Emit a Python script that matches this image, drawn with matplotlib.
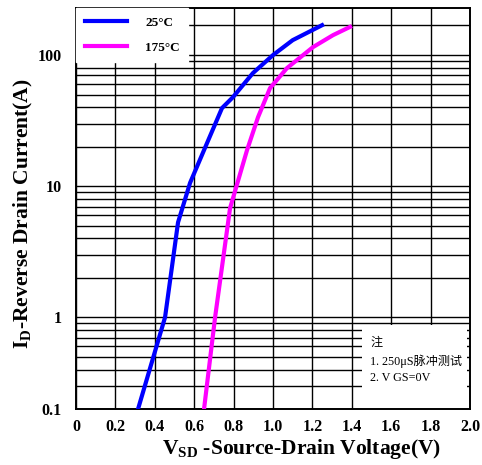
import matplotlib
matplotlib.use("Agg")
import matplotlib.pyplot as plt
from matplotlib.patches import Rectangle

# ---- data ----
v_25 = [0.315, 0.452, 0.518, 0.579, 0.665, 0.741, 0.797, 0.898, 1.00, 1.10, 1.249]
i_25 = [0.2, 1.0, 5.3, 10.6, 21.3, 39.4, 47.8, 72.9, 100, 130, 169]
v_175 = [0.650, 0.706, 0.782, 0.868, 0.924, 0.985, 1.071, 1.203, 1.305, 1.391]
i_175 = [0.2, 1.0, 6.8, 18.8, 33.6, 56, 79.6, 115, 142, 164]
series_labels = ["25°C", "175°C"]
series_colors = ["#0000ff", "#ff00ff"]

x_ticks = [0, 0.2, 0.4, 0.6, 0.8, 1.0, 1.2, 1.4, 1.6, 1.8, 2.0]
x_tick_labels = ["0", "0.2", "0.4", "0.6", "0.8", "1.0", "1.2", "1.4", "1.6", "1.8", "2.0"]
y_ticks = [0.2, 1, 10, 100]
y_tick_labels = ["0.1", "1", "10", "100"]
y_minor = [0.3, 0.4, 0.5, 0.6, 0.7, 0.8, 0.9,
           2, 3, 4, 5, 6, 7, 8, 9,
           20, 30, 40, 50, 60, 70, 80, 90, 170]
note_lines = ["注", "1. 250μS脉冲测试", "2. V GS=0V"]

plt.rcParams['mathtext.fontset'] = 'custom'
plt.rcParams['mathtext.rm'] = 'Liberation Serif'
plt.rcParams['mathtext.bf'] = 'Liberation Serif:bold'

W, H = 482, 465
fig = plt.figure(figsize=(W / 100, H / 100), dpi=100)
ax = fig.add_axes([76 / W, 1 - 409 / H, (470 - 76) / W, (409 - 8) / H])

ax.set_yscale('log')
ax.set_xlim(0, 2.0)
ax.set_ylim(0.2, 228.6)

ax.plot(v_25, i_25, color=series_colors[0], lw=3.0, label=series_labels[0], zorder=3)
ax.plot(v_175, i_175, color=series_colors[1], lw=3.0, label=series_labels[1], zorder=3)

ax.set_xticks(x_ticks)
ax.set_xticklabels(x_tick_labels)
ax.set_yticks(y_ticks)
ax.set_yticklabels(y_tick_labels)
ax.set_yticks(y_minor, minor=True)
ax.yaxis.set_minor_formatter(plt.NullFormatter())
ax.tick_params(axis='both', which='both', length=0)
ax.tick_params(axis='x', pad=7)
ax.tick_params(axis='y', pad=10)
for lab in ax.get_xticklabels() + ax.get_yticklabels():
    lab.set_fontfamily('Liberation Serif')
    lab.set_fontweight('bold')
    lab.set_fontsize(11.5)

ax.grid(True, which='both', color='black', lw=1.0)
ax.set_axisbelow(True)
for s in ax.spines.values():
    s.set_linewidth(1.4)
    s.set_color('black')

# note box (white area at lower right)
ax.add_patch(Rectangle((0.726, 0.0), 0.266, 0.21, transform=ax.transAxes,
                       facecolor='white', edgecolor='none', zorder=2))
note_y = [343, 361, 378]
for txt, yp in zip(note_lines, note_y):
    fig.text(370 / W, 1 - yp / H, txt, ha='left', va='center', fontsize=8.7,
             family=['Liberation Serif', 'Noto Sans CJK SC'])

leg = ax.legend(loc='upper left', bbox_to_anchor=(0, 1), borderaxespad=0,
                frameon=True, fancybox=False, framealpha=1, edgecolor='white',
                handlelength=3.2, handletextpad=1.4, labelspacing=0.95,
                borderpad=0.65, prop={'family': 'Liberation Serif', 'weight': 'bold', 'size': 9.5})
leg.set_zorder(5)

fig.text(302 / W, 1 - 449 / H, r"$\mathbf{V}_{\mathbf{SD}}$ -Source-Drain Voltage(V)",
         ha='center', va='center', fontsize=15.5, family='Liberation Serif', fontweight='bold')
fig.text(23 / W, 1 - 214 / H, r"$\mathbf{I}_{\mathbf{D}}$-Reverse Drain Current(A)",
         ha='center', va='center', rotation=90, fontsize=15.5, family='Liberation Serif',
         fontweight='bold')

fig.savefig("out.png", dpi=100)
